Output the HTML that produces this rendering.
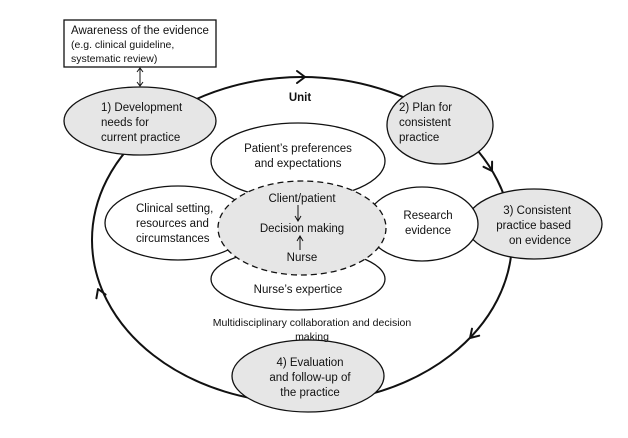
<!DOCTYPE html>
<html><head><style>
body{margin:0;background:#fff}
svg text{font-family:"Liberation Sans",sans-serif;font-size:11.5px;fill:#111}
</style></head><body>
<svg width="628" height="433" viewBox="0 0 628 433" xmlns="http://www.w3.org/2000/svg">
<g fill="none" stroke="#111" stroke-width="2">
<ellipse cx="302" cy="240" rx="210" ry="163"/>
</g>
<g stroke="#111" stroke-width="2" fill="none" stroke-linecap="round" stroke-linejoin="round">
<path d="M297 71 L305 77 L297 83"/>
<path d="M483.5 166.8 L492 171 L492.1 161.6"/>
<path d="M472 328.7 L470 338 L479.2 335.7"/>
<path d="M105.6 294.5 L98 289 L96.4 298.3"/>
</g>
<rect x="64" y="20" width="152" height="47" fill="#fff" stroke="#111" stroke-width="1.3"/>
<text x="71" y="34">Awareness of the evidence</text>
<text x="71" y="48" style="font-size:10.5px">(e.g. clinical guideline,</text>
<text x="71" y="62" style="font-size:10.5px">systematic review)</text>
<g stroke="#111" stroke-width="1" fill="none">
<line x1="140" y1="69" x2="140" y2="85"/>
<path d="M137 72 L140 68 L143 72 M137 82 L140 86 L143 82"/>
</g>
<g fill="#e6e6e6" stroke="#111" stroke-width="1.3">
<ellipse cx="140" cy="121" rx="76" ry="34"/>
<ellipse cx="440" cy="125" rx="53" ry="39"/>
<ellipse cx="534" cy="224" rx="68" ry="35"/>
<ellipse cx="308" cy="376" rx="76" ry="36"/>
</g>
<g fill="#fff" stroke="#111" stroke-width="1.3">
<ellipse cx="298" cy="161" rx="87" ry="38"/>
<ellipse cx="178" cy="223" rx="73" ry="37"/>
<ellipse cx="422" cy="224" rx="56" ry="37"/>
<ellipse cx="298" cy="279" rx="87" ry="31"/>
</g>
<ellipse cx="302" cy="228" rx="84" ry="47" fill="#e6e6e6" stroke="#111" stroke-width="1.3" stroke-dasharray="6,4"/>
<text x="101" y="111">1) Development</text>
<text x="101" y="126">needs for</text>
<text x="101" y="141">current practice</text>
<text x="399" y="111">2) Plan for</text>
<text x="399" y="126">consistent</text>
<text x="399" y="141">practice</text>
<text x="571" y="214" text-anchor="end">3) Consistent</text>
<text x="571" y="229" text-anchor="end">practice based</text>
<text x="571" y="244" text-anchor="end">on evidence</text>
<text x="310" y="366" text-anchor="middle">4) Evaluation</text>
<text x="310" y="381" text-anchor="middle">and follow-up of</text>
<text x="310" y="396" text-anchor="middle">the practice</text>
<text x="300" y="101" text-anchor="middle" style="font-weight:bold">Unit</text>
<text x="298" y="152" text-anchor="middle">Patient’s preferences</text>
<text x="298" y="167" text-anchor="middle">and expectations</text>
<text x="136" y="212">Clinical setting,</text>
<text x="136" y="227">resources and</text>
<text x="136" y="242">circumstances</text>
<text x="428" y="219" text-anchor="middle">Research</text>
<text x="428" y="234" text-anchor="middle">evidence</text>
<text x="298" y="293" text-anchor="middle">Nurse’s expertice</text>
<text x="302" y="202" text-anchor="middle">Client/patient</text>
<text x="302" y="232" text-anchor="middle">Decision making</text>
<text x="302" y="261" text-anchor="middle">Nurse</text>
<g stroke="#111" stroke-width="1" fill="none">
<line x1="298" y1="205" x2="298" y2="220"/><path d="M295 216 L298 221 L301 216"/>
<line x1="300" y1="237" x2="300" y2="250"/><path d="M297 241 L300 236 L303 241"/>
</g>
<text x="312" y="326" text-anchor="middle" style="font-size:10.5px">Multidisciplinary collaboration and decision</text>
<text x="312" y="340" text-anchor="middle" style="font-size:10.5px">making</text>
</svg>
</body></html>
